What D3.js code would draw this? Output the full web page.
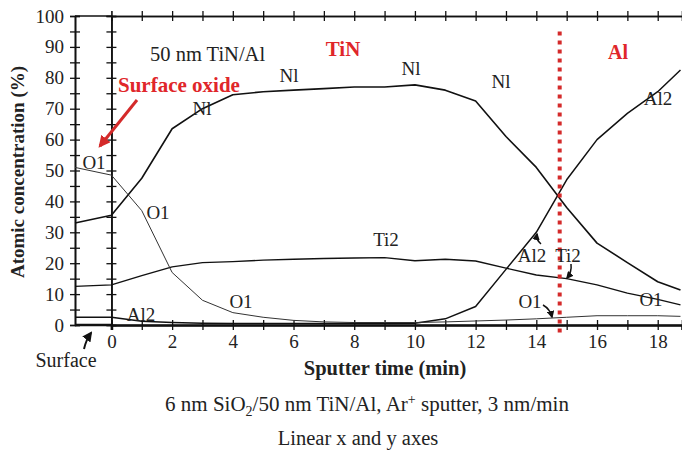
<!DOCTYPE html>
<html>
<head>
<meta charset="utf-8">
<script src="https://cdn.jsdelivr.net/npm/d3@7"></script>
<style>
  body { margin: 0; background: #fff; }
  svg text { font-family: "Liberation Serif", "Times New Roman", serif; }
</style>
</head>
<body>
<svg id="chart" width="682" height="452"></svg>
<script>
// Sputter depth profile: atomic concentration vs. sputter time.
// The first point of each series (-1.2) is the as-received surface reading.
const times  = [-1.2, 0, 1, 2, 3, 4, 5, 6, 7, 8, 9, 10, 11, 12, 13, 14, 15, 16, 17, 18, 18.75];
const N1     = [33, 35.5, 47.5, 63.5, 70, 74.5, 75.5, 76, 76.5, 77, 77, 77.7, 76, 72.5, 61, 51, 38, 26.5, 20.2, 14, 11.3];
const O1     = [51, 48.5, 37, 17, 8, 4, 2.5, 1.5, 1, 0.8, 0.8, 0.8, 1, 1.3, 1.6, 2, 2.5, 3, 3, 3, 2.8];
const Ti2    = [12.5, 13, 16, 18.8, 20.2, 20.5, 21, 21.3, 21.5, 21.7, 21.8, 20.8, 21.3, 20.7, 18.4, 16.2, 15, 13, 10.3, 8.3, 6.5];
const Al2    = [2.5, 2.5, 1.2, 0.8, 0.6, 0.5, 0.5, 0.5, 0.5, 0.5, 0.5, 0.6, 2, 6, 18, 30, 47, 60, 68.5, 75.5, 82.5];
const interfaceTime = 14.77;
const yTicks = d3.range(0, 101, 5);
const xTicks = d3.range(0, 19, 1);

const svg = d3.select("#chart");
const x = d3.scaleLinear().domain([-1.2, 18.8]).range([75, 682]);
const y = d3.scaleLinear().domain([0, 100]).range([325, 16]);

const axisG = svg.append("g");
const fmtY = d => (d % 10 === 0 ? d : "");
const fmtX = d => (d % 2 === 0 ? d : "");

function styleAxis(g, font) {
  g.select(".domain").attr("stroke", "#111").attr("stroke-width", 1.6);
  g.selectAll(".tick line").attr("stroke", "#111").attr("stroke-width", 1.3);
  g.selectAll(".tick text").attr("fill", "#222").style("font-size", font + "px")
    .style("font-family", "Liberation Serif, serif");
}

// outer left axis (labelled) and inner axis at t = 0, both with crossing ticks
[x(-1.2), x(0)].forEach((px, i) => {
  const l = axisG.append("g").attr("transform", `translate(${px},0)`)
    .call(d3.axisLeft(y).tickValues(yTicks).tickSize(5).tickPadding(6)
      .tickFormat(i === 0 ? fmtY : () => ""));
  styleAxis(l, 19);
  const r = axisG.append("g").attr("transform", `translate(${px},0)`)
    .call(d3.axisRight(y).tickValues(yTicks).tickSize(5).tickFormat(() => ""));
  styleAxis(r, 19);
});

// bottom axis
const bx = d3.scaleLinear().domain([0, 18.8]).range([x(0), 682]);
const b1 = axisG.append("g").attr("transform", `translate(0,${y(0)})`)
  .call(d3.axisBottom(bx).tickValues(xTicks).tickSize(5).tickPadding(5).tickFormat(fmtX));
styleAxis(b1, 19);
const b2 = axisG.append("g").attr("transform", `translate(0,${y(0)})`)
  .call(d3.axisTop(bx).tickValues(xTicks).tickSize(5).tickFormat(() => ""));
styleAxis(b2, 19);
b1.select(".domain").attr("stroke-width", 2.6);

// top axis
const t1 = axisG.append("g").attr("transform", `translate(0,${y(100)})`)
  .call(d3.axisTop(bx).tickValues(xTicks.slice(1)).tickSize(5).tickFormat(() => ""));
styleAxis(t1, 19);
const t2 = axisG.append("g").attr("transform", `translate(0,${y(100)})`)
  .call(d3.axisBottom(bx).tickValues(xTicks.slice(1)).tickSize(5).tickFormat(() => ""));
styleAxis(t2, 19);

// baseline / top line through the surface region
axisG.append("line").attr("x1", x(-1.2)).attr("x2", x(0)).attr("y1", y(100)).attr("y2", y(100))
  .attr("stroke", "#111").attr("stroke-width", 1.6);
axisG.append("line").attr("x1", x(-1.2)).attr("x2", x(0)).attr("y1", y(0)).attr("y2", y(0))
  .attr("stroke", "#111").attr("stroke-width", 2.6);

// profile curves
const line = d3.line().x((d, i) => x(times[i])).y(d => y(d));
const series = [
  { vals: N1, w: 1.6, c: "#111" },
  { vals: Ti2, w: 1.4, c: "#111" },
  { vals: Al2, w: 1.5, c: "#111" },
  { vals: O1, w: 1.0, c: "#333" }
];
svg.append("g").selectAll("path").data(series).join("path")
  .attr("d", s => line(s.vals)).attr("fill", "none")
  .attr("stroke", s => s.c).attr("stroke-width", s => s.w).attr("stroke-linejoin", "round");

// TiN / Al interface
svg.append("line").attr("x1", x(interfaceTime)).attr("x2", x(interfaceTime))
  .attr("y1", y(95)).attr("y2", y(-3))
  .attr("stroke", "#d42a2a").attr("stroke-width", 4).attr("stroke-dasharray", "4,5");

// text annotations
const ann = svg.append("g");
function txt(tx, ty, s, opts = {}) {
  return ann.append("text").attr("x", tx).attr("y", ty).text(s)
    .attr("text-anchor", opts.anchor || "middle")
    .attr("fill", opts.fill || "#222")
    .style("font-size", (opts.size || 19) + "px")
    .style("font-weight", opts.bold ? "bold" : "normal");
}
txt(150, 61, "50 nm TiN/Al", { anchor: "start", size: 20.5 });
txt(343, 56, "TiN", { fill: "#e0262a", bold: true, size: 21 });
txt(618, 59, "Al", { fill: "#e0262a", bold: true, size: 20 });
txt(118, 92, "Surface oxide", { anchor: "start", fill: "#e0262a", bold: true, size: 21 });

[[202, 115], [289, 82], [411, 75], [501, 88]].forEach(p => txt(p[0], p[1], "Nl"));
[[94, 169], [158, 219], [241, 308], [530, 308], [651, 306]].forEach(p => txt(p[0], p[1], "O1"));
txt(386, 246, "Ti2");
txt(568, 262, "Ti2");
txt(532, 262, "Al2");
txt(658, 105, "Al2");
txt(141, 321, "Al2");
txt(66, 367, "Surface", { size: 20 });

// arrows
const defs = svg.append("defs");
defs.append("marker").attr("id", "redHead").attr("viewBox", "0 0 10 10")
  .attr("refX", 8).attr("refY", 5).attr("markerWidth", 4).attr("markerHeight", 4)
  .attr("orient", "auto").append("path").attr("d", "M0,0L10,5L0,10z").attr("fill", "#d42a2a");
defs.append("marker").attr("id", "blkHead").attr("viewBox", "0 0 10 10")
  .attr("refX", 8).attr("refY", 5).attr("markerWidth", 5).attr("markerHeight", 5)
  .attr("orient", "auto").append("path").attr("d", "M0,0L10,5L0,10z").attr("fill", "#111");

ann.append("line").attr("x1", 137).attr("y1", 100).attr("x2", 100).attr("y2", 146)
  .attr("stroke", "#d42a2a").attr("stroke-width", 3).attr("marker-end", "url(#redHead)");
ann.append("path").attr("d", "M84,349 Q86,340 91,333").attr("fill", "none")
  .attr("stroke", "#111").attr("stroke-width", 2).attr("marker-end", "url(#blkHead)");
ann.append("path").attr("d", "M543,305 Q550,309 552,317").attr("fill", "none")
  .attr("stroke", "#111").attr("stroke-width", 1.5).attr("marker-end", "url(#blkHead)");
ann.append("path").attr("d", "M541,244 Q536,240 537,234").attr("fill", "none")
  .attr("stroke", "#111").attr("stroke-width", 1.5).attr("marker-end", "url(#blkHead)");
ann.append("path").attr("d", "M571,264 Q572,272 567,278").attr("fill", "none")
  .attr("stroke", "#111").attr("stroke-width", 1.5).attr("marker-end", "url(#blkHead)");

// axis titles and captions
txt(385, 375, "Sputter time (min)", { bold: true, size: 20.5 });
ann.append("text").attr("transform", "translate(24,172) rotate(-90)")
  .attr("text-anchor", "middle").attr("fill", "#222")
  .style("font-size", "19px").style("font-weight", "bold").text("Atomic concentration (%)");

const cap = ann.append("text").attr("x", 367).attr("y", 411).attr("text-anchor", "middle")
  .attr("fill", "#222").style("font-size", "21px");
cap.append("tspan").text("6 nm SiO");
cap.append("tspan").attr("dy", 5).style("font-size", "14px").text("2");
cap.append("tspan").attr("dy", -5).text("/50 nm  TiN/Al,  Ar");
cap.append("tspan").attr("dy", -7).style("font-size", "14px").text("+");
cap.append("tspan").attr("dy", 7).text(" sputter, 3 nm/min");
txt(358, 445, "Linear x and y axes", { size: 20.5 });
</script>
</body>
</html>
